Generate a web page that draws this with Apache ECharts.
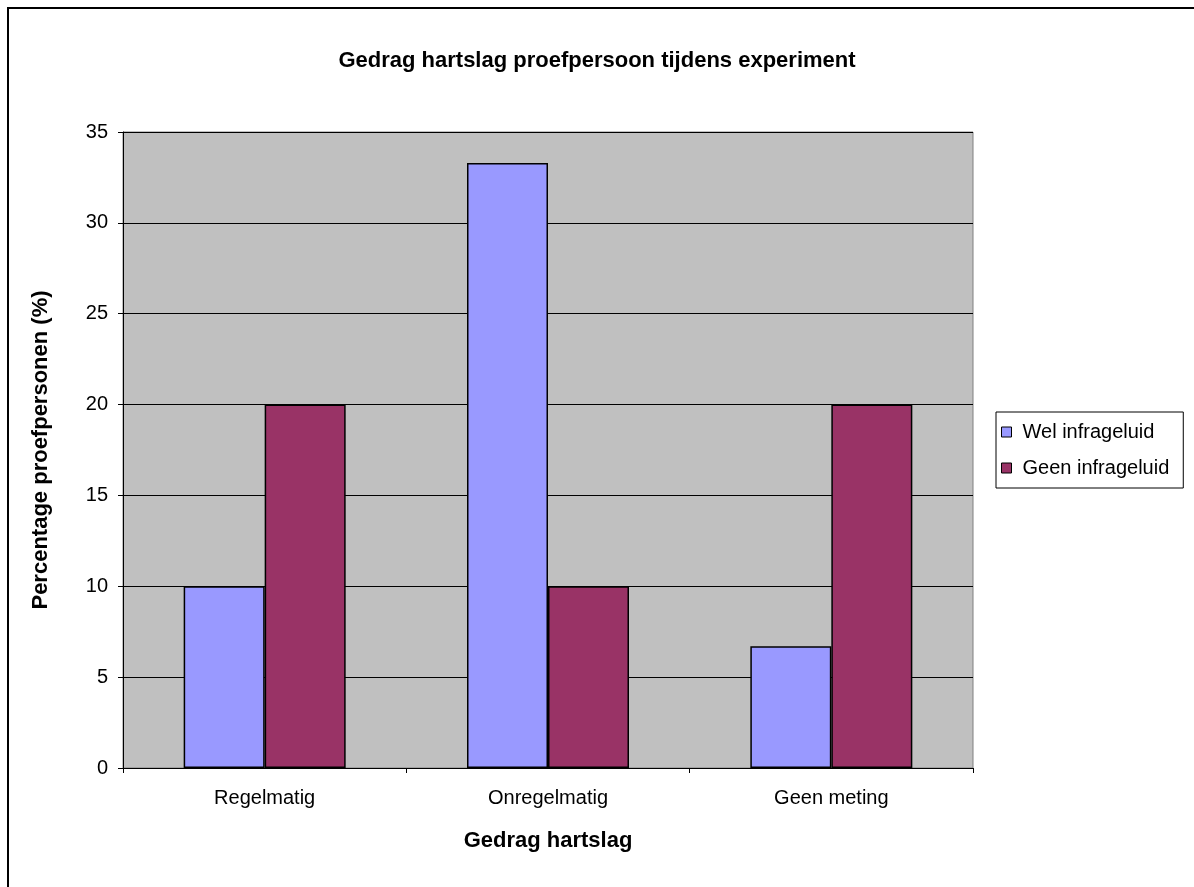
<!DOCTYPE html>
<html>
<head>
<meta charset="utf-8">
<script src="https://cdn.jsdelivr.net/npm/echarts@6/dist/echarts.min.js"></script>
<style>
  html, body { margin: 0; padding: 0; background: #fff; }
  #chart { width: 1194px; height: 887px; }
</style>
</head>
<body>
<div id="chart"></div>
<script>
// chart data
const categories = ['Regelmatig', 'Onregelmatig', 'Geen meting'];
const welInfrageluid = [10, 33.3, 6.7];
const geenInfrageluid = [20, 10, 20];

const chart = echarts.init(document.getElementById('chart'));
const font = 'Liberation Sans, Arial, sans-serif';

const option = {
  backgroundColor: '#fff',
  animation: false,
  textStyle: { fontFamily: font, color: '#000' },
  title: {
    text: 'Gedrag hartslag proefpersoon tijdens experiment',
    left: 'center',
    top: 45,
    textStyle: { fontSize: 22, fontWeight: 'bold', color: '#000', fontFamily: font }
  },
  // chart frame: only top and left edges are visible in the original
  graphic: [
    {
      type: 'line',
      shape: { x1: 8, y1: 8, x2: 1194, y2: 8 },
      style: { stroke: '#000', lineWidth: 2 },
      silent: true
    },
    {
      type: 'line',
      shape: { x1: 8, y1: 7, x2: 8, y2: 887 },
      style: { stroke: '#000', lineWidth: 2 },
      silent: true
    }
  ],
  legend: {
    orient: 'vertical',
    left: 996,
    top: 412,
    padding: [10, 14, 10, 5],
    itemGap: 16,
    itemWidth: 10,
    itemHeight: 10,
    icon: 'rect',
    borderColor: '#000',
    borderWidth: 1,
    backgroundColor: '#fff',
    itemStyle: { borderColor: '#000', borderWidth: 1 },
    textStyle: { fontSize: 20, color: '#000', fontFamily: font, padding: [0, 0, 0, 6] },
    data: ['Wel infrageluid', 'Geen infrageluid']
  },
  grid: {
    left: 123,
    right: 221,
    top: 132,
    bottom: 119,
    show: true,
    backgroundColor: '#c0c0c0',
    borderColor: '#808080',
    borderWidth: 1
  },
  xAxis: {
    type: 'category',
    data: categories,
    name: 'Gedrag hartslag',
    nameLocation: 'middle',
    nameGap: 62,
    nameTextStyle: { fontSize: 22, fontWeight: 'bold', color: '#000', fontFamily: font },
    axisLine: { lineStyle: { color: '#000', width: 1 } },
    axisTick: { show: true, length: 5, alignWithLabel: false, lineStyle: { color: '#000' } },
    axisLabel: { fontSize: 20, color: '#000', margin: 20, fontFamily: font }
  },
  yAxis: {
    type: 'value',
    min: 0,
    max: 35,
    interval: 5,
    name: 'Percentage proefpersonen (%)',
    nameLocation: 'middle',
    nameGap: 71,
    nameTextStyle: { fontSize: 22, fontWeight: 'bold', color: '#000', fontFamily: font },
    axisLine: { show: true, lineStyle: { color: '#000', width: 1 } },
    axisTick: { show: true, length: 5, lineStyle: { color: '#000' } },
    axisLabel: { fontSize: 20, color: '#000', margin: 15, fontFamily: font },
    splitLine: { show: true, lineStyle: { color: '#000', width: 1 } }
  },
  series: [
    {
      name: 'Wel infrageluid',
      type: 'bar',
      data: welInfrageluid,
      barWidth: 81,
      barGap: '0%',
      itemStyle: { color: '#9999ff', borderColor: '#000', borderWidth: 1.5 }
    },
    {
      name: 'Geen infrageluid',
      type: 'bar',
      data: geenInfrageluid,
      barWidth: 81,
      barGap: '0%',
      itemStyle: { color: '#993366', borderColor: '#000', borderWidth: 1.5 }
    }
  ]
};

chart.setOption(option);
</script>
</body>
</html>
